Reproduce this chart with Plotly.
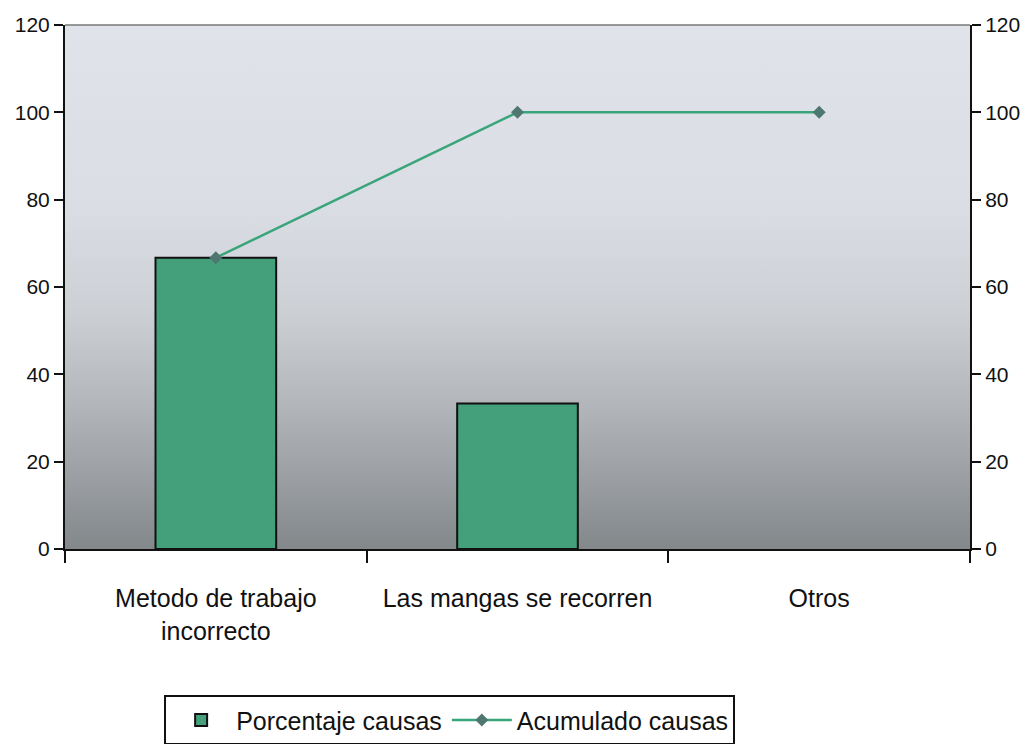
import base64
import plotly.graph_objects as go

categories = ["Metodo de trabajo<br>incorrecto", "Las mangas se recorren", "Otros"]
porcentaje = [66.7, 33.3, 0]
acumulado = [66.7, 100, 100]
y_ticks = [0, 20, 40, 60, 80, 100, 120]

FONT = "Liberation Sans Narrow, Arial Narrow, Liberation Sans, Arial, sans-serif"

# vertical gradient for the plot area (excel-ish background)
svg = """<svg xmlns='http://www.w3.org/2000/svg' width='100' height='100' preserveAspectRatio='none'>
<defs><linearGradient id='g' x1='0' y1='0' x2='0' y2='1'>
<stop offset='0' stop-color='#e0e3ea'/>
<stop offset='0.35' stop-color='#dadde3'/>
<stop offset='0.55' stop-color='#cccfd4'/>
<stop offset='0.72' stop-color='#b3b7bb'/>
<stop offset='0.87' stop-color='#9a9ea2'/>
<stop offset='1' stop-color='#83888b'/>
</linearGradient></defs>
<rect width='100' height='100' fill='url(#g)'/></svg>"""
bg_src = "data:image/svg+xml;base64," + base64.b64encode(svg.encode()).decode()

fig = go.Figure()
fig.add_trace(go.Bar(x=categories, y=porcentaje, name="Porcentaje causas", width=0.4,
                     marker=dict(color="#43a07b", line=dict(color="#111111", width=[2, 2, 0]))))
fig.add_trace(go.Scatter(x=categories, y=acumulado, name="Acumulado causas", yaxis="y2",
                         mode="lines+markers", line=dict(color="#3aa57a", width=2.5),
                         marker=dict(symbol="diamond", size=10, color="#4f7670")))

# page has an 8px body margin, so the figure is 8px smaller than the window
fig.update_layout(
    width=1025, height=736,
    margin=dict(l=57, r=63, t=17, b=195, autoexpand=False),
    paper_bgcolor="white", plot_bgcolor="rgba(0,0,0,0)",
    font=dict(family=FONT, size=21, color="#111111"),
    showlegend=True,
    legend=dict(orientation="h", x=0.425, xanchor="center", y=-0.279, yanchor="top",
                bordercolor="#111111", borderwidth=2, bgcolor="white",
                font=dict(size=25), itemwidth=60),
    images=[dict(source=bg_src, xref="paper", yref="paper", x=0, y=1, sizex=1, sizey=1,
                 sizing="stretch", layer="below")],
    shapes=[dict(type="line", xref="paper", yref="paper", x0=0, x1=1, y0=1, y1=1,
                 line=dict(color="#777777", width=1.5))],
)
fig.update_xaxes(showline=True, linecolor="#111111", linewidth=2, ticks="outside", ticklen=12,
                 tickwidth=2, tickcolor="#111111", tickson="boundaries", tickangle=0,
                 showgrid=False, tickfont=dict(size=25), ticklabelstandoff=26, automargin=False)
fig.update_layout(
    yaxis=dict(range=[0, 120], tickvals=y_ticks, showgrid=False, zeroline=False,
               showline=True, linecolor="#111111", linewidth=2, ticks="outside",
               ticklen=9, tickwidth=2, tickcolor="#111111", automargin=False),
    yaxis2=dict(range=[0, 120], tickvals=y_ticks, overlaying="y", side="right",
                showgrid=False, zeroline=False, showline=True, linecolor="#111111",
                linewidth=2, ticks="outside", ticklen=9, tickwidth=2, tickcolor="#111111",
                automargin=False),
)

fig.write_html("out.html")
